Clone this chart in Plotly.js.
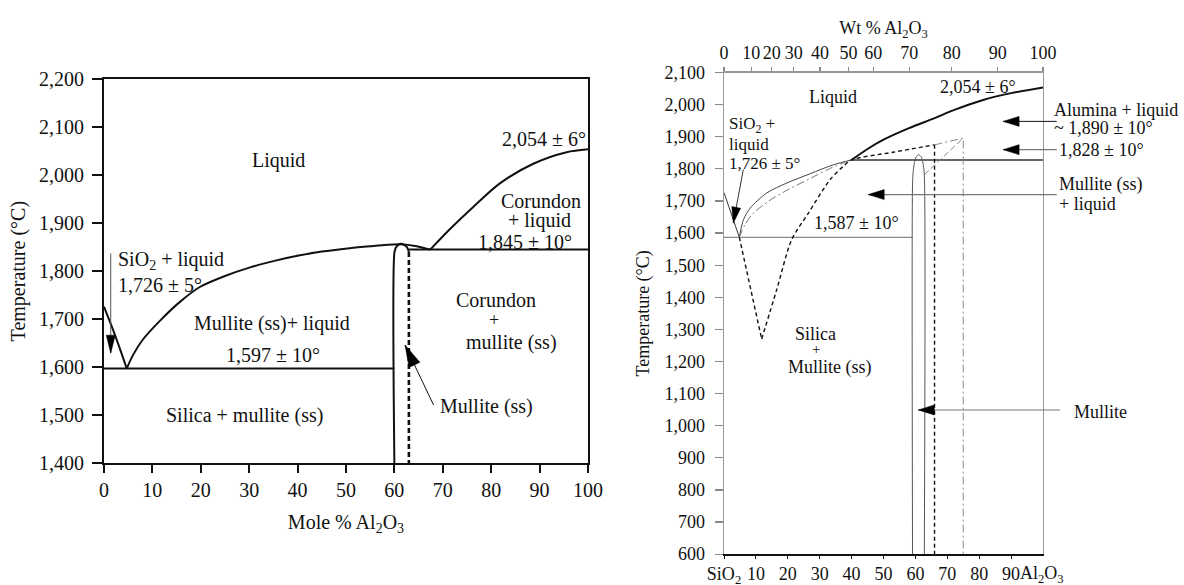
<!DOCTYPE html>
<html>
<head>
<meta charset="utf-8">
<script src="https://cdn.plot.ly/plotly-3.0.1.min.js"></script>
<style>
  html, body { margin: 0; padding: 0; background: #fff; }
  #chart { width: 1184px; height: 585px; }
</style>
</head>
<body>
<div id="chart"></div>
<script>
// ===== SiO2–Al2O3 phase diagram, mole % version (left) =====
const moleSilicaLiqX   = [0, 1.9, 3.65, 4.7];
const moleSilicaLiqT   = [1726, 1677, 1628, 1597];
const moleMulliteLiqX  = [4.7, 6, 8, 11.6, 15.7, 19.8, 25, 30.2, 35, 40.5, 45, 50.8, 55, 58.5, 61.2, 64.6, 67.4];
const moleMulliteLiqT  = [1597, 1625, 1657, 1697, 1736, 1767, 1790, 1808, 1821, 1833, 1841, 1848, 1852, 1855, 1856, 1852, 1845];
const moleCorundumLiqX = [67.4, 71.5, 76.3, 81.8, 88.7, 95.6, 100];
const moleCorundumLiqT = [1845, 1888, 1934, 1983, 2024, 2048, 2054];
const moleEutecticX    = [0, 60];
const moleEutecticT    = [1597, 1597];
const molePeritecticX  = [63, 100];
const molePeritecticT  = [1845, 1845];
const moleMulliteLoopX = [60, 60, 60.3, 60.8, 61.4, 62, 62.6, 63];
const moleMulliteLoopT = [1400, 1838, 1849, 1855, 1857, 1855, 1850, 1840];
const moleMulliteEdgeX = [63, 63];
const moleMulliteEdgeT = [1840, 1400];

// ===== Wt % / mole % version with metastable curves (right) =====
const wtSilicaLiqX     = [0, 4.8];
const wtSilicaLiqT     = [1726, 1587];
const wtStableLiqX     = [4.8, 6.1, 8.2, 13.4, 19.7, 27, 34.3, 40];
const wtStableLiqT     = [1587, 1642, 1678, 1725, 1756, 1785, 1813, 1828];
const wtAltLiqX        = [4.8, 6.5, 9, 14, 20, 27, 34, 40];
const wtAltLiqT        = [1587, 1625, 1660, 1700, 1735, 1770, 1805, 1828];
const wtMetaLiqX       = [4.8, 8.3, 11.8];
const wtMetaLiqT       = [1587, 1430, 1270];
const wtMetaRiseX      = [11.8, 16.5, 21.2, 26.5, 33.2, 37.4, 40, 53, 66];
const wtMetaRiseT      = [1270, 1423, 1579, 1663, 1766, 1808, 1828, 1852, 1875];
const wtMetaMulliteX   = [66, 66];
const wtMetaMulliteT   = [1875, 600];
const wtAltMulliteX    = [66, 75, 75];
const wtAltMulliteT    = [1875, 1896, 600];
const wtAltSlopeX      = [62.8, 75];
const wtAltSlopeT      = [1782, 1896];
const wtMulliteLoopX   = [59.1, 59.1, 59.3, 59.7, 60.3, 61.1, 61.9, 62.5, 62.8, 62.8];
const wtMulliteLoopT   = [600, 1750, 1790, 1820, 1838, 1844, 1836, 1810, 1782, 600];
const wtAluminaLiqX    = [40, 45, 50, 58, 66, 72, 81, 90, 100];
const wtAluminaLiqT    = [1828, 1862, 1891, 1927, 1958, 1983, 2014, 2036, 2054];
const wtEutecticX      = [0, 59.1];
const wtEutecticT      = [1587, 1587];
const wtPeritecticX    = [40, 100];
const wtPeritecticT    = [1828, 1828];

// bottom scale (mole %) and the matching wt % scale on top
const moleTickVals     = [0, 10, 20, 30, 40, 50, 60, 70, 80, 90];
const moleTickText     = ['SiO<sub>2</sub>', '10', '20', '30', '40', '50', '60', '70', '80', '90'];
const wtTickPos        = [0, 8.5, 15, 21.9, 30.1, 39, 46.8, 58.1, 71.4, 85.8, 100];
const wtTickText       = ['0', '10', '20', '30', '40', '50', '60', '70', '80', '90', '100'];

const FONT = 'Liberation Serif, "Times New Roman", serif';
const W = 1184, H = 585;

const xL = { domain: [0.0878, 0.4966], range: [0, 100] };
const yL = { domain: [0.2085, 0.8644], range: [1400, 2200] };
const xR = { domain: [0.6115, 0.8809], range: [0, 100] };
const yR = { domain: [0.0528, 0.8759], range: [600, 2100] };

function pxPerUnit(ax, size) {
  return (ax.domain[1] - ax.domain[0]) * size / (ax.range[1] - ax.range[0]);
}
// x value on an axis expressed as a paper fraction (for items that sit past the plot edge)
function toPaper(ax, v) {
  return ax.domain[0] + (v - ax.range[0]) / (ax.range[1] - ax.range[0]) * (ax.domain[1] - ax.domain[0]);
}

function curve(x, y, xa, ya, color, width, dash, shape) {
  return {
    type: 'scatter', mode: 'lines', x: x, y: y, xaxis: xa, yaxis: ya,
    line: { color: color, width: width, dash: dash || 'solid', shape: shape || 'linear', smoothing: 0.8 },
    hoverinfo: 'skip', showlegend: false, cliponaxis: true
  };
}

const DASHDOT = '8px,3px,2px,3px';
const traces = [
  // left
  curve(moleSilicaLiqX, moleSilicaLiqT, 'x', 'y', '#111', 2, 'solid', 'spline'),
  curve(moleMulliteLiqX, moleMulliteLiqT, 'x', 'y', '#111', 2, 'solid', 'spline'),
  curve(moleCorundumLiqX, moleCorundumLiqT, 'x', 'y', '#111', 2, 'solid', 'spline'),
  curve(moleEutecticX, moleEutecticT, 'x', 'y', '#111', 2),
  curve(molePeritecticX, molePeritecticT, 'x', 'y', '#111', 2),
  curve(moleMulliteLoopX, moleMulliteLoopT, 'x', 'y', '#111', 2, 'solid', 'spline'),
  curve(moleMulliteEdgeX, moleMulliteEdgeT, 'x', 'y', '#111', 2.6, '5px,3px'),
  // right
  curve(wtEutecticX, wtEutecticT, 'x2', 'y2', '#888', 1.2),
  curve(wtPeritecticX, wtPeritecticT, 'x2', 'y2', '#333', 1.5),
  curve(wtSilicaLiqX, wtSilicaLiqT, 'x2', 'y2', '#333', 1),
  curve(wtStableLiqX, wtStableLiqT, 'x2', 'y2', '#444', 1, 'solid', 'spline'),
  curve(wtAltLiqX, wtAltLiqT, 'x2', 'y2', '#777', 1, DASHDOT, 'spline'),
  curve(wtMetaLiqX, wtMetaLiqT, 'x2', 'y2', '#111', 1.4, '4px,3px'),
  curve(wtMetaRiseX, wtMetaRiseT, 'x2', 'y2', '#111', 1.4, '4px,3px', 'spline'),
  curve(wtMetaMulliteX, wtMetaMulliteT, 'x2', 'y2', '#111', 1.4, '4px,3px'),
  curve(wtAltMulliteX, wtAltMulliteT, 'x2', 'y2', '#888', 1, DASHDOT),
  curve(wtAltSlopeX, wtAltSlopeT, 'x2', 'y2', '#888', 1, '6px,3px'),
  curve(wtMulliteLoopX, wtMulliteLoopT, 'x2', 'y2', '#555', 1, 'solid', 'spline'),
  curve(wtAluminaLiqX, wtAluminaLiqT, 'x2', 'y2', '#111', 2, 'solid', 'spline'),
  // carrier for the wt % axis on top
  { type: 'scatter', mode: 'lines', x: wtTickPos, y: wtTickPos.map(() => null),
    xaxis: 'x3', yaxis: 'y2', hoverinfo: 'skip', showlegend: false }
];

function label(xref, yref, x, y, text, size, anchor) {
  return { xref: xref, yref: yref, x: x, y: y, text: text, showarrow: false,
           xanchor: anchor || 'center', yanchor: 'middle', borderpad: 0,
           font: { family: FONT, size: size, color: '#111' } };
}
// labels to the right of the right-hand plot (x given in mole %, beyond 100)
function sideLabel(x, y, text) {
  return label('paper', 'y2', toPaper(xR, x), y, text, 18, 'left');
}

const annotations = [
  // left panel
  label('x', 'y', 36, 2031, 'Liquid', 20),
  label('x', 'y', 99.7, 2076, '2,054 ± 6°', 20, 'right'),
  label('x', 'y', 90.3, 1946, 'Corundon', 20),
  label('x', 'y', 89.9, 1905, '+ liquid', 20),
  label('x', 'y', 87, 1861, '1,845 ± 10°', 20),
  label('x', 'y', 2.6, 1823, 'SiO<sub>2</sub> + liquid', 20, 'left'),
  label('x', 'y', 2.6, 1771, '1,726 ± 5°', 20, 'left'),
  label('x', 'y', 34.7, 1690, 'Mullite (ss)+ liquid', 20),
  label('x', 'y', 34.9, 1625, '1,597 ± 10°', 20),
  label('x', 'y', 29.1, 1500, 'Silica + mullite (ss)', 20),
  label('x', 'y', 81, 1739, 'Corundon', 20),
  label('x', 'y', 80.5, 1699, '+', 18),
  label('x', 'y', 84.1, 1651, 'mullite (ss)', 20),
  label('x', 'y', 79, 1517, 'Mullite (ss)', 20),
  // right panel
  label('x2', 'y2', 34.3, 2025, 'Liquid', 18),
  label('x2', 'y2', 91.8, 2056, '2,054 ± 6°', 18, 'right'),
  label('x2', 'y2', 1.35, 1937, 'SiO<sub>2</sub> +', 17, 'left'),
  label('x2', 'y2', 1.35, 1877, 'liquid', 17, 'left'),
  label('x2', 'y2', 1.35, 1817, '1,726 ± 5°', 17, 'left'),
  label('x2', 'y2', 41.6, 1630, '1,587 ± 10°', 18),
  label('x2', 'y2', 28.8, 1287, 'Silica', 18),
  label('x2', 'y2', 28.8, 1238, '+', 15),
  label('x2', 'y2', 33.2, 1180, 'Mullite (ss)', 18),
  sideLabel(103.2, 1983, 'Alumina + liquid'),
  sideLabel(103.2, 1926, '~ 1,890 ± 10°'),
  sideLabel(104.8, 1859, '1,828 ± 10°'),
  sideLabel(104.8, 1750, 'Mullite (ss)'),
  sideLabel(104.8, 1690, '+ liquid'),
  sideLabel(109.4, 1043, 'Mullite'),
  // Al2O3 end label on the bottom mole % scale
  { xref: 'paper', yref: 'paper', x: toPaper(xR, 92.6), y: 0.018, text: 'Al<sub>2</sub>O<sub>3</sub>',
    showarrow: false, xanchor: 'left', yanchor: 'middle', borderpad: 0,
    font: { family: FONT, size: 18, color: '#111' } }
];

const shapes = [];
// pointer lines with slender filled heads
function pointer(xa, ya, xAx, kx, ky, tail, tip, color, width, headLen, headHalf) {
  shapes.push({ type: 'line', xref: 'paper', yref: ya,
    x0: toPaper(xAx, tail[0]), y0: tail[1], x1: toPaper(xAx, tip[0]), y1: tip[1],
    line: { color: color, width: width } });
  const dx = (tail[0] - tip[0]) * kx, dy = (tail[1] - tip[1]) * ky;
  const n = Math.hypot(dx, dy), ux = dx / n, uy = dy / n;
  const bx = ux * headLen, by = uy * headLen, px = -uy * headHalf, py = ux * headHalf;
  shapes.push({ type: 'path', xref: xa, yref: ya, xsizemode: 'pixel', ysizemode: 'pixel',
    xanchor: tip[0], yanchor: tip[1],
    path: `M0,0L${(bx + px).toFixed(2)},${(by + py).toFixed(2)}L${(bx - px).toFixed(2)},${(by - py).toFixed(2)}Z`,
    fillcolor: '#000', line: { color: '#000', width: 0.5 } });
}
const kxL = pxPerUnit(xL, W), kyL = pxPerUnit(yL, H);
const kxR = pxPerUnit(xR, W), kyR = pxPerUnit(yR, H);
pointer('x', 'y', xL, kxL, kyL, [1.4, 1837], [1.4, 1629], '#555', 1, 18, 4.5);
pointer('x', 'y', xL, kxL, kyL, [68.1, 1521], [62.2, 1646], '#111', 1, 22, 6);
pointer('x2', 'y2', xR, kxR, kyR, [104.3, 1948], [87.5, 1948], '#111', 1, 16, 5);
pointer('x2', 'y2', xR, kxR, kyR, [104.3, 1860], [87.5, 1860], '#777', 1.2, 16, 5);
pointer('x2', 'y2', xR, kxR, kyR, [104.3, 1720], [45.2, 1720], '#777', 1.2, 16, 5);
pointer('x2', 'y2', xR, kxR, kyR, [105.3, 1049], [60.9, 1049], '#777', 1.2, 16, 5);
pointer('x2', 'y2', xR, kxR, kyR, [6.05, 1798], [2.9, 1631], '#333', 1, 16, 4.5);

const tf20 = { family: FONT, size: 20, color: '#111' };
const tf18 = { family: FONT, size: 18, color: '#111' };

const layout = {
  width: W, height: H,
  margin: { l: 0, r: 0, t: 0, b: 0 },
  paper_bgcolor: '#fff', plot_bgcolor: '#fff',
  showlegend: false,
  font: { family: FONT, size: 18, color: '#111' },
  xaxis: {
    domain: xL.domain, range: xL.range, anchor: 'y', dtick: 10, tick0: 0,
    ticks: 'outside', ticklen: 8, tickwidth: 2, tickcolor: '#111',
    showline: true, linewidth: 2, linecolor: '#111', mirror: true,
    showgrid: false, zeroline: false, automargin: false, tickfont: tf20,
    title: { text: 'Mole % Al<sub>2</sub>O<sub>3</sub>', font: tf20, standoff: 15 }
  },
  yaxis: {
    domain: yL.domain, range: yL.range, anchor: 'x', dtick: 100, tick0: 1400, tickformat: ',d',
    ticks: 'outside', ticklen: 10, tickwidth: 2, tickcolor: '#111', ticklabelstandoff: 4,
    showline: true, linewidth: 2, linecolor: '#111', mirror: true,
    showgrid: false, zeroline: false, automargin: false, tickfont: tf20,
    title: { text: 'Temperature (°C)', font: tf20, standoff: 8 }
  },
  xaxis2: {
    domain: xR.domain, range: xR.range, anchor: 'y2',
    tickmode: 'array', tickvals: moleTickVals, ticktext: moleTickText,
    ticks: 'outside', ticklen: 3, tickwidth: 1, tickcolor: '#111',
    showline: true, linewidth: 1.5, linecolor: '#111', mirror: false,
    showgrid: false, zeroline: false, automargin: false, tickfont: tf18
  },
  yaxis2: {
    domain: yR.domain, range: yR.range, anchor: 'x2', dtick: 100, tick0: 600, tickformat: ',d',
    ticks: 'outside', ticklen: 8, tickwidth: 1.2, tickcolor: '#888', ticklabelstandoff: 6,
    showline: true, linewidth: 1.5, linecolor: '#999', mirror: true,
    showgrid: false, zeroline: false, automargin: false, tickfont: tf18,
    title: { text: 'Temperature (°C)', font: tf18, standoff: 10 }
  },
  xaxis3: {
    overlaying: 'x2', side: 'top', anchor: 'y2', range: xR.range,
    tickmode: 'array', tickvals: wtTickPos, ticktext: wtTickText,
    ticks: 'outside', ticklen: 4, tickwidth: 1.2, tickcolor: '#888', ticklabelstandoff: 1,
    showline: true, linewidth: 1.5, linecolor: '#999',
    showgrid: false, zeroline: false, automargin: false, tickfont: tf18,
    title: { text: 'Wt % Al<sub>2</sub>O<sub>3</sub>', font: tf18, standoff: 3 }
  },
  annotations: annotations,
  shapes: shapes
};

Plotly.newPlot('chart', traces, layout, { staticPlot: true, displayModeBar: false });
</script>
</body>
</html>
